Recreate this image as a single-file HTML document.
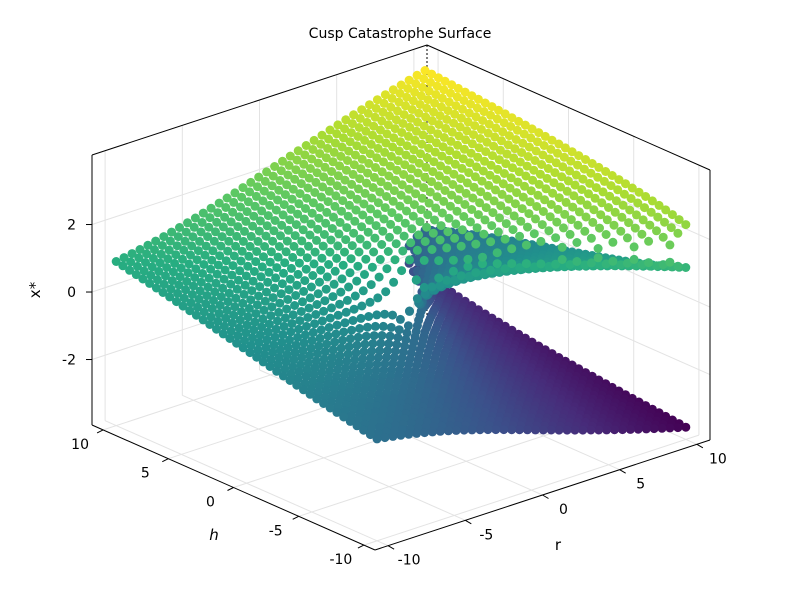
<!DOCTYPE html>
<html><head><meta charset="utf-8"><style>
body{margin:0;background:#fff;}
svg text{font-family:"DejaVu Sans","Liberation Sans",sans-serif;fill:#000;}
</style></head><body>
<svg id="chart" width="800" height="600" viewBox="0 0 800 600" xmlns="http://www.w3.org/2000/svg">
<text x="400" y="38" font-size="14" text-anchor="middle">Cusp Catastrophe Surface</text>
<g id="grid"></g>
<g id="box"></g>
<g id="pts"></g>
<g id="ticks"></g>
<text x="214" y="540" font-size="15" font-style="italic" text-anchor="middle">h</text>
<text x="558" y="550" font-size="15" text-anchor="middle">r</text>
<text transform="translate(40,290) rotate(-90)" font-size="15" text-anchor="middle">x*</text>
</svg>
<script>
const rVals=[-10,-9.49,-8.97,-8.46,-7.95,-7.44,-6.92,-6.41,-5.90,-5.38,-4.87,-4.36,-3.85,-3.33,-2.82,-2.31,-1.79,-1.28,-0.77,-0.26,0.26,0.77,1.28,1.79,2.31,2.82,3.33,3.85,4.36,4.87,5.38,5.90,6.41,6.92,7.44,7.95,8.46,8.97,9.49,10];
const hVals=[-10,-9.49,-8.97,-8.46,-7.95,-7.44,-6.92,-6.41,-5.90,-5.38,-4.87,-4.36,-3.85,-3.33,-2.82,-2.31,-1.79,-1.28,-0.77,-0.26,0.26,0.77,1.28,1.79,2.31,2.82,3.33,3.85,4.36,4.87,5.38,5.90,6.41,6.92,7.44,7.95,8.46,8.97,9.49,10];
const rTicks=[-10,-5,0,5,10];
const hTicks=[-10,-5,0,5,10];
const zTicks=[-2,0,2];
const zMin=-3.94,zMax=4.06,L=10.85;
const NS="http://www.w3.org/2000/svg";
const F=[375,550],ur=[335/(2*L),-110/(2*L)],uh=[-283/(2*L),-125/(2*L)],uz=33.75;
function P(r,h,z){return [F[0]+(r+L)*ur[0]+(h+L)*uh[0], F[1]+(r+L)*ur[1]+(h+L)*uh[1]-(z-zMin)*uz];}
function line(g,a,b,c,w,d){const l=document.createElementNS(NS,'line');l.setAttribute('x1',a[0]);l.setAttribute('y1',a[1]);l.setAttribute('x2',b[0]);l.setAttribute('y2',b[1]);l.setAttribute('stroke',c);l.setAttribute('stroke-width',w);if(d)l.setAttribute('stroke-dasharray',d);g.appendChild(l);return l;}
const grid=document.getElementById('grid'),box=document.getElementById('box'),tk=document.getElementById('ticks'),pts=document.getElementById('pts');
const gc='#e3e3e3';
rTicks.forEach(r=>{let l=line(grid,P(r,-L,zMin),P(r,L,zMin),gc,1);
l=line(grid,P(r,L,zMin),P(r,L,zMax),gc,1);});
hTicks.forEach(h=>{let l=line(grid,P(-L,h,zMin),P(L,h,zMin),gc,1);
l=line(grid,P(L,h,zMin),P(L,h,zMax),gc,1);});
zTicks.forEach(z=>{let l=line(grid,P(-L,L,z),P(L,L,z),gc,1);
l=line(grid,P(L,L,z),P(L,-L,z),gc,1);});
[[P(-L,-L,zMin),P(L,-L,zMin)],[P(-L,-L,zMin),P(-L,L,zMin)],[P(-L,L,zMin),P(-L,L,zMax)],[P(L,-L,zMin),P(L,-L,zMax)],[P(-L,L,zMax),P(L,L,zMax)],[P(L,L,zMax),P(L,-L,zMax)]].forEach(e=>{const l=line(box,e[0],e[1],'#000',1);});
{const l=line(box,P(L,L,zMin),P(L,L,zMax),'#000',1,'2,2');}
function txt(x,y,s,anchor){const t=document.createElementNS(NS,'text');t.setAttribute('x',x);t.setAttribute('y',y);t.setAttribute('font-size','14');t.setAttribute('text-anchor',anchor);t.textContent=s;tk.appendChild(t);return t;}
rTicks.forEach(r=>{const p=P(r,-L,zMin);const l=line(box,p,[p[0]+6,p[1]+3.5],'#000',1);
const t=txt(p[0]+21,p[1]+19,String(r),'middle');});
hTicks.forEach(h=>{const p=P(-L,h,zMin);const l=line(box,p,[p[0]-6,p[1]+3],'#000',1);
const t=txt(p[0]-23,p[1]+19,String(h),'middle');});
zTicks.forEach(z=>{const p=P(-L,L,z);const l=line(box,p,[p[0]-6,p[1]],'#000',1);
const t=txt(p[0]-16,p[1]+5,String(z),'end');});
function roots(r,h){// x^3 - r x - h = 0
 const out=[];const f=x=>x*x*x-r*x-h;let prev=f(-6);
 for(let i=1;i<=1200;i++){const x=-6+i*0.01;const v=f(x);if(prev===0||prev*v<0){let a=x-0.01,b=x;for(let k=0;k<40;k++){const m=(a+b)/2;if(f(a)*f(m)<=0)b=m;else a=m;}out.push((a+b)/2);}prev=v;}
 return out;}
const vir=[[68,1,84],[71,44,122],[59,81,139],[44,113,142],[33,144,141],[39,173,129],[92,200,99],[170,220,50],[253,231,37]];
function col(t){t=Math.max(0,Math.min(1,t))*(vir.length-1);const i=Math.min(vir.length-2,Math.floor(t)),f=t-i;const c=vir[i].map((v,k)=>Math.round(v+(vir[i+1][k]-v)*f));return `rgb(${c})`;}
const all=[];
rVals.forEach(r=>hVals.forEach(h=>roots(r,h).forEach(x=>all.push([r,h,x]))));
all.sort((a,b)=>((b[0]+b[1])/10-0.8*b[2]/3.9)-((a[0]+a[1])/10-0.8*a[2]/3.9));
all.forEach(([r,h,x])=>{const p=P(r,h,x);const c=document.createElementNS(NS,'circle');
c.setAttribute('cx',p[0].toFixed(1));c.setAttribute('cy',p[1].toFixed(1));c.setAttribute('r','4.5');c.setAttribute('fill',col((x+3.6)/7.2));


pts.appendChild(c);});
</script>
</body></html>
